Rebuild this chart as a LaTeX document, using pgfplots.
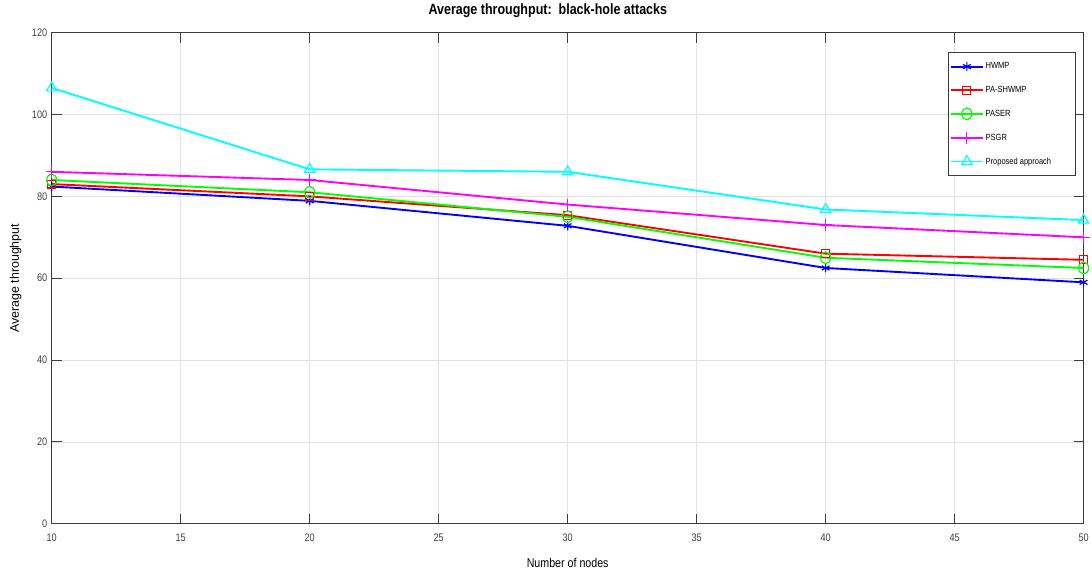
\documentclass[border=0pt]{standalone}
\usepackage{fontspec}
\setmainfont[FakeStretch=0.84]{Liberation Sans}
\newfontfamily\ylabfont{Liberation Sans}
\usepackage{pgfplots}
\pgfplotsset{compat=1.18}

\definecolor{axgray}{RGB}{60,60,60}
\definecolor{mblue}{RGB}{0,0,255}
\definecolor{mred}{RGB}{255,0,0}
\definecolor{mgreen}{RGB}{0,255,0}
\definecolor{mmag}{RGB}{255,0,255}
\definecolor{mcyan}{RGB}{0,255,255}

\newcommand{\legtxt}[1]{\makebox[86pt][l]{#1}}

\begin{document}
\begin{tikzpicture}
  \begin{axis}[
    scale only axis,
    width=1040pt, height=495pt,
    xmin=10, xmax=50, ymin=0, ymax=120,
    xtick={10,15,...,50}, ytick={0,20,...,120},
    grid=major,
    major grid style={gray!22, line width=0.8pt},
    axis line style={axgray, line width=0.9pt},
    tick style={axgray, line width=0.9pt},
    tick align=inside,
    major tick length=10pt,
    /pgf/number format/assume math mode=true,
    tick label style={font=\fontsize{11}{12}\selectfont, text=black!75},
    yticklabel style={xshift=-1pt},
    xticklabel style={yshift=-7pt},
    title={\bfseries Average throughput:\ \ black-hole attacks},
    title style={font=\fontsize{15}{16}\selectfont, yshift=6pt, xshift=-20pt},
    xlabel={Number of nodes},
    xlabel style={font=\fontsize{12.8}{14}\selectfont, yshift=-10pt},
    ylabel={Average throughput},
    ylabel style={font=\ylabfont\fontsize{12.5}{14}\selectfont, inner ysep=10pt, yshift=-3pt},
    every axis plot/.append style={line width=1.9pt},
    legend cell align=left,
    legend style={at={(rel axis cs:0.992,0.9596)}, anchor=north east,
      font=\fontsize{9}{10}\selectfont, draw=axgray, line width=0.8pt,
      row sep=12pt, inner xsep=2pt, inner ysep=8pt},
    legend image code/.code={
      \draw[mark repeat=2, mark phase=2] plot coordinates {(0pt,0pt)(16pt,0pt)(32pt,0pt)};
    },
  ]
    \addplot[mblue, mark=asterisk, mark size=4.5pt, mark options={line width=1.2pt}]
      coordinates {(10,82.4) (20,78.9) (30,72.8) (40,62.5) (50,59.0)};
    \addlegendentry{\legtxt{HWMP}}
    \addplot[mred, mark=square, mark size=4pt, mark options={line width=1.2pt}]
      coordinates {(10,83.0) (20,80.0) (30,75.4) (40,66.0) (50,64.5)};
    \addlegendentry{\legtxt{PA-SHWMP}}
    \addplot[mgreen, mark=o, mark size=5pt, mark options={line width=1.2pt, yscale=1.2}]
      coordinates {(10,84.0) (20,81.0) (30,75.0) (40,65.0) (50,62.5)};
    \addlegendentry{\legtxt{PASER}}
    \addplot[mmag, mark=+, mark size=6pt, mark options={line width=1.2pt}]
      coordinates {(10,86.0) (20,84.0) (30,78.0) (40,73.0) (50,70.0)};
    \addlegendentry{\legtxt{PSGR}}
    \addplot[mcyan, mark=triangle, mark size=6pt, mark options={line width=1.2pt}]
      coordinates {(10,106.5) (20,86.6) (30,86.0) (40,76.8) (50,74.2)};
    \addlegendentry{\legtxt{Proposed approach}}
  \end{axis}
\end{tikzpicture}
\end{document}
